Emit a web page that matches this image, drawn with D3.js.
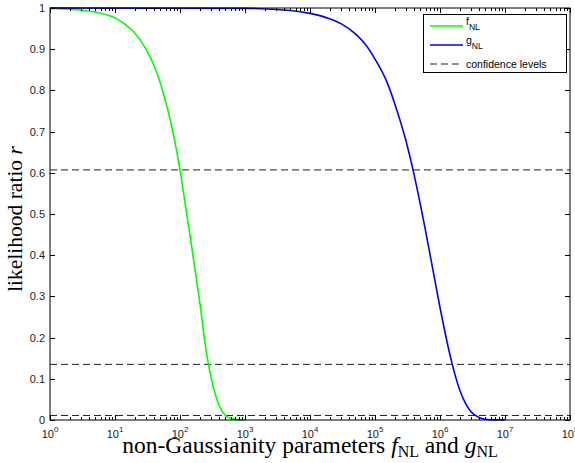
<!DOCTYPE html>
<html lang="en">
<head>
    <meta charset="UTF-8" />
    <title>Likelihood ratio</title>
    <script src="https://d3js.org/d3.v7.min.js"></script>
    <style>
        body { margin: 0; background: #fff; }
        .tick-label { font-family: "Liberation Sans", Arial, sans-serif; font-size: 11px; fill: #222; }
        .axis-title { font-family: "Liberation Serif", "Times New Roman", serif; fill: #000; }
        .legend-text { font-family: "Liberation Sans", Arial, sans-serif; font-size: 10.5px; fill: #000; }
    </style>
</head>
<body>
    <svg width="575" height="463"></svg>

    <script>
        // f_NL curve (value, likelihood ratio)
        const fnlX = [1, 2, 5, 10, 15, 20, 30, 40, 50, 60, 70, 80, 100, 120, 150, 180, 200, 250, 300, 350, 400, 500, 600, 800, 1000];
        const fnlR = [0.999, 0.997, 0.990, 0.976, 0.958, 0.940, 0.900, 0.860, 0.817, 0.773, 0.731, 0.690, 0.607, 0.525, 0.425, 0.338, 0.290, 0.172, 0.104, 0.062, 0.035, 0.011, 0.004, 0.001, 0];

        // g_NL curve
        const gnlX = [1, 1000, 5000, 1e4, 2e4, 3e4, 5e4, 7e4, 1e5, 1.5e5, 2e5, 3e5, 4e5, 5e5, 6e5, 8e5, 1e6, 1.5e6, 2e6, 3e6, 4e6, 5e6, 7e6, 1e7];
        const gnlR = [1.0, 0.999, 0.994, 0.987, 0.974, 0.962, 0.937, 0.913, 0.876, 0.823, 0.769, 0.677, 0.595, 0.522, 0.459, 0.354, 0.273, 0.143, 0.074, 0.020, 0.006, 0.002, 0.0002, 0];

        // confidence levels (dashed)
        const levels = [0.607, 0.135, 0.011];

        const xDecades = [0, 1, 2, 3, 4, 5, 6, 7, 8];
        const yTicks = [0, 0.1, 0.2, 0.3, 0.4, 0.5, 0.6, 0.7, 0.8, 0.9, 1];

        const pLeft = 50, pRight = 570, pTop = 8, pBottom = 420;

        const x = d3.scaleLog().domain([1, 1e8]).range([pLeft, pRight]);
        const y = d3.scaleLinear().domain([0, 1]).range([pBottom, pTop]);

        const svg = d3.select("svg");

        // confidence lines
        svg.selectAll(".level")
            .data(levels)
            .enter()
            .append("line")
            .attr("class", "level")
            .attr("x1", pLeft)
            .attr("x2", pRight)
            .attr("y1", d => y(d))
            .attr("y2", d => y(d))
            .attr("stroke", "#222")
            .attr("stroke-width", 1)
            .attr("stroke-dasharray", "7,4");

        const line = d3.line()
            .x(d => x(d[0]))
            .y(d => y(d[1]))
            .curve(d3.curveMonotoneX);

        svg.append("path")
            .datum(fnlX.map((v, i) => [v, fnlR[i]]))
            .attr("d", line)
            .attr("fill", "none")
            .attr("stroke", "#00ff00")
            .attr("stroke-width", 1.6);

        svg.append("path")
            .datum(gnlX.map((v, i) => [v, gnlR[i]]))
            .attr("d", line)
            .attr("fill", "none")
            .attr("stroke", "#0000ff")
            .attr("stroke-width", 1.6);

        // box
        svg.append("rect")
            .attr("x", pLeft)
            .attr("y", pTop)
            .attr("width", pRight - pLeft)
            .attr("height", pBottom - pTop)
            .attr("fill", "none")
            .attr("stroke", "#000")
            .attr("stroke-width", 1);

        // x ticks: majors + log minors, bottom and top, inward
        const xTickVals = [];
        xDecades.forEach(p => {
            xTickVals.push({ v: Math.pow(10, p), major: true });
            if (p < 8) {
                for (let m = 2; m <= 9; m++) xTickVals.push({ v: m * Math.pow(10, p), major: false });
            }
        });

        const tickG = svg.append("g").attr("stroke", "#000").attr("stroke-width", 1);
        xTickVals.forEach(t => {
            const len = t.major ? 5 : 3;
            const px = Math.round(x(t.v)) + 0.5;
            tickG.append("line").attr("x1", px).attr("x2", px).attr("y1", pBottom).attr("y2", pBottom - len);
            tickG.append("line").attr("x1", px).attr("x2", px).attr("y1", pTop).attr("y2", pTop + len);
        });

        yTicks.forEach(t => {
            const py = Math.round(y(t)) + 0.5;
            tickG.append("line").attr("x1", pLeft).attr("x2", pLeft + 5).attr("y1", py).attr("y2", py);
            tickG.append("line").attr("x1", pRight).attr("x2", pRight - 5).attr("y1", py).attr("y2", py);
        });

        // y tick labels
        svg.selectAll(".ylab")
            .data(yTicks)
            .enter()
            .append("text")
            .attr("class", "tick-label")
            .attr("x", pLeft - 5)
            .attr("y", d => y(d) + 4)
            .attr("text-anchor", "end")
            .text(d => d === 0 || d === 1 ? String(d) : d.toFixed(1));

        // x tick labels 10^p
        const xl = svg.selectAll(".xlab")
            .data(xDecades)
            .enter()
            .append("text")
            .attr("class", "tick-label")
            .attr("x", d => x(Math.pow(10, d)))
            .attr("y", 438)
            .attr("text-anchor", "middle");
        xl.append("tspan").text("10");
        xl.append("tspan").attr("dy", -6).attr("font-size", "8px").text(d => d);

        // axis titles
        const xt = svg.append("text")
            .attr("class", "axis-title")
            .attr("font-size", "23.5px")
            .attr("x", 310)
            .attr("y", 453)
            .attr("text-anchor", "middle");
        xt.append("tspan").text("non-Gaussianity parameters ");
        xt.append("tspan").attr("font-style", "italic").text("f");
        xt.append("tspan").attr("dy", 4).attr("font-size", "16px").text("NL");
        xt.append("tspan").attr("dy", -4).text(" and ");
        xt.append("tspan").attr("font-style", "italic").text("g");
        xt.append("tspan").attr("dy", 4).attr("font-size", "16px").text("NL");

        const yt = svg.append("text")
            .attr("class", "axis-title")
            .attr("font-size", "21.5px")
            .attr("transform", "translate(22,219) rotate(-90)")
            .attr("text-anchor", "middle");
        yt.append("tspan").text("likelihood ratio ");
        yt.append("tspan").attr("font-style", "italic").text("r");

        // legend
        const legend = svg.append("g");
        legend.append("rect")
            .attr("x", 423.5).attr("y", 14.5)
            .attr("width", 143).attr("height", 58)
            .attr("fill", "#fff").attr("stroke", "#000").attr("stroke-width", 1);

        const entries = [
            { name: "f", color: "#00ff00", dash: null, sub: "NL" },
            { name: "g", color: "#0000ff", dash: null, sub: "NL" },
            { name: "confidence levels", color: "#222", dash: "7,4", sub: null }
        ];
        entries.forEach((e, i) => {
            const ly = 26 + i * 19;
            legend.append("line")
                .attr("x1", 430).attr("x2", 463).attr("y1", ly).attr("y2", ly)
                .attr("stroke", e.color)
                .attr("stroke-width", e.dash ? 1 : 1.6)
                .attr("stroke-dasharray", e.dash);
            const t = legend.append("text").attr("class", "legend-text")
                .attr("x", 466).attr("y", e.sub ? ly - 1 : ly + 4);
            t.append("tspan").text(e.name);
            if (e.sub) t.append("tspan").attr("dy", 5).attr("font-size", "8.5px").text(e.sub);
        });
    </script>
</body>
</html>
